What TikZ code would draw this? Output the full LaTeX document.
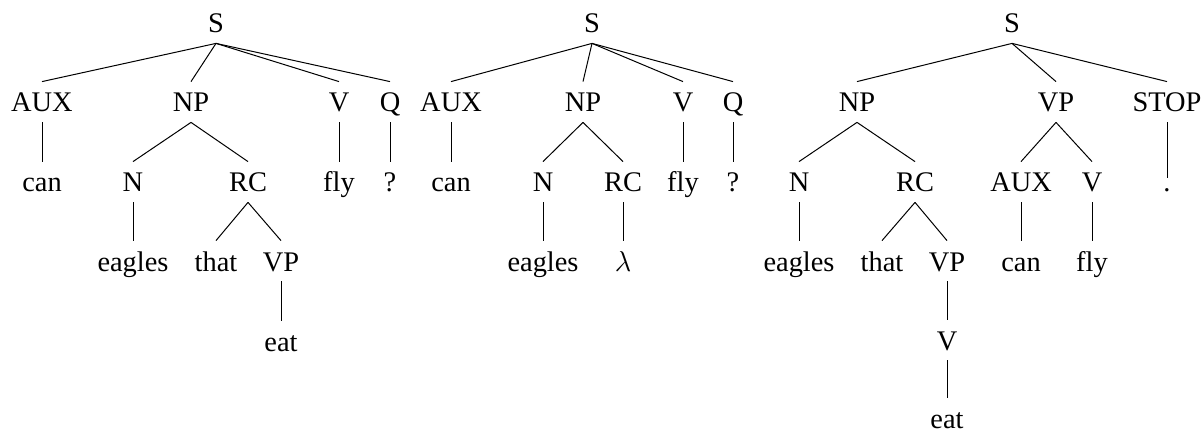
\documentclass[tikz,border=0pt]{standalone}
\usepackage{fontspec}
\setmainfont{Liberation Serif}
\begin{document}
\begin{tikzpicture}[x=0.5pt,y=-0.5pt,
  tn/.style={anchor=base, inner sep=0pt, text height=15pt, text depth=5pt, font=\fontsize{14.2}{16}\selectfont},
  tdot/.style={tn, text height=7pt},
  edge/.style={line width=0.5pt}]
\useasboundingbox (0,0) rectangle (1202,432);
% Tree 1
\node[tn] (S1) at (216,33) {S};
\node[tn] (AUX1) at (42,112) {AUX};
\node[tn] (NP1) at (191,112) {NP};
\node[tn] (V1) at (339,112) {V};
\node[tn] (Q1) at (390,112) {Q};
\node[tn] (can1) at (42,192) {can};
\node[tn] (N1) at (133,192) {N};
\node[tn] (RC1) at (248,192) {RC};
\node[tn] (fly1) at (339,192) {fly};
\node[tn] (q1) at (390,192) {?};
\node[tn] (eagles1) at (133,271) {eagles};
\node[tn] (that1) at (216,271) {that};
\node[tn] (VP1) at (281,271) {VP};
\node[tn] (eat1) at (281,351) {eat};
\foreach \a/\b in {S1/AUX1,S1/NP1,S1/V1,S1/Q1,AUX1/can1,NP1/N1,NP1/RC1,V1/fly1,Q1/q1,N1/eagles1,RC1/that1,RC1/VP1,VP1/eat1}
  \draw[edge] (\a.south) -- (\b.north);
% Tree 2
\node[tn] (S2) at (592,33) {S};
\node[tn] (AUX2) at (451,112) {AUX};
\node[tn] (NP2) at (583,112) {NP};
\node[tn] (V2) at (683,112) {V};
\node[tn] (Q2) at (733,112) {Q};
\node[tn] (can2) at (451,192) {can};
\node[tn] (N2) at (543,192) {N};
\node[tn] (RC2) at (623,192) {RC};
\node[tn] (fly2) at (683,192) {fly};
\node[tn] (q2) at (733,192) {?};
\node[tn] (eagles2) at (543,271) {eagles};
\node[tn] (lam2) at (623,271) {$\lambda$};
\foreach \a/\b in {S2/AUX2,S2/NP2,S2/V2,S2/Q2,AUX2/can2,NP2/N2,NP2/RC2,V2/fly2,Q2/q2,N2/eagles2,RC2/lam2}
  \draw[edge] (\a.south) -- (\b.north);
% Tree 3
\node[tn] (S3) at (1012,33) {S};
\node[tn] (NP3) at (857,112) {NP};
\node[tn] (VP3) at (1056,112) {VP};
\node[tn] (STOP3) at (1167,112) {STOP};
\node[tn] (N3) at (799,192) {N};
\node[tn] (RC3) at (915,192) {RC};
\node[tn] (AUX3) at (1021,192) {AUX};
\node[tn] (V3) at (1092,192) {V};
\node[tdot] (dot3) at (1167,192) {.};
\node[tn] (eagles3) at (799,271) {eagles};
\node[tn] (that3) at (882,271) {that};
\node[tn] (VP3b) at (947,271) {VP};
\node[tn] (can3) at (1021,271) {can};
\node[tn] (fly3) at (1092,271) {fly};
\node[tn] (V3b) at (947,350) {V};
\node[tn] (eat3) at (947,428) {eat};
\foreach \a/\b in {S3/NP3,S3/VP3,S3/STOP3,NP3/N3,NP3/RC3,VP3/AUX3,VP3/V3,STOP3/dot3,N3/eagles3,RC3/that3,RC3/VP3b,AUX3/can3,V3/fly3,VP3b/V3b,V3b/eat3}
  \draw[edge] (\a.south) -- (\b.north);
\end{tikzpicture}
\end{document}
